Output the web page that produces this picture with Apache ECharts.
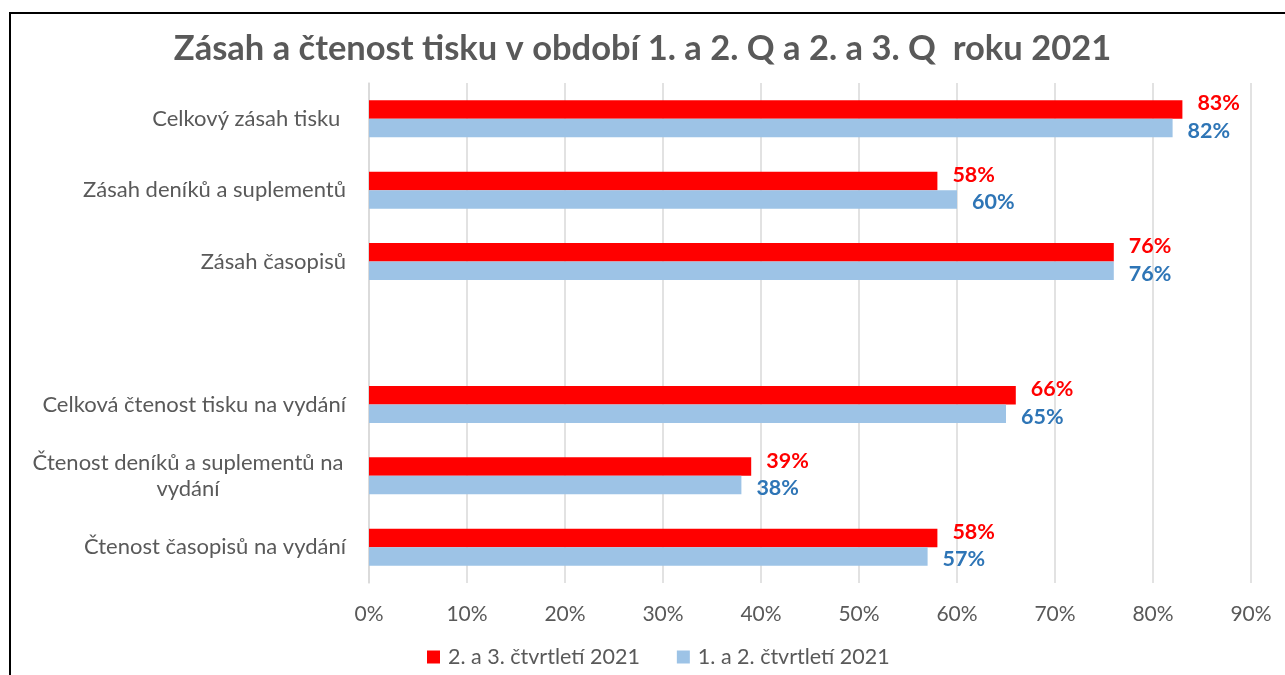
<!DOCTYPE html>
<html><head><meta charset="utf-8">
<script src="https://cdn.jsdelivr.net/npm/echarts@6/dist/echarts.min.js"></script>
<style>html,body{margin:0;padding:0;background:#fff}#c{width:1285px;height:675px}</style>
</head><body><div id="c"></div>
<script>
const categories = ['Celkový zásah tisku ', 'Zásah deníků a suplementů', 'Zásah časopisů', '', 'Celková čtenost tisku na vydání', 'Čtenost deníků a suplementů na\nvydání', 'Čtenost časopisů na vydání'];
const seriesQ23 = [83, 58, 76, null, 66, 39, 58];
const seriesQ12 = [82, 60, 76, null, 65, 38, 57];
const seriesNames = ['2. a 3. čtvrtletí 2021', '1. a 2. čtvrtletí 2021'];
const xTicks = {min: 0, max: 90, interval: 10};

const FONT = 'Lato';
const chart = echarts.init(document.getElementById('c'));
chart.setOption({
  animation: false,
  title: {
    text: 'Zásah a čtenost tisku v období 1. a 2. Q a 2. a 3. Q  roku 2021',
    left: 'center', top: 26,
    textStyle: {fontFamily: FONT, fontSize: 34.5, fontWeight: 'bold', color: '#595959'}
  },
  graphic: [{type: 'rect', shape: {x: 10, y: 13, width: 1400, height: 1000}, style: {fill: 'none', stroke: '#000', lineWidth: 2}, silent: true}],
  legend: {
    bottom: 2, left: 422, itemWidth: 13, itemHeight: 13, itemGap: 37,
    icon: 'rect',
    textStyle: {fontFamily: FONT, fontSize: 21.5, color: '#595959', padding: [0, 0, 0, 3]},
    data: seriesNames
  },
  grid: {left: 369, right: 34, top: 83, bottom: 92, containLabel: false},
  xAxis: {
    type: 'value', min: xTicks.min, max: xTicks.max, interval: xTicks.interval,
    axisLabel: {formatter: '{value}%', fontFamily: FONT, fontSize: 21, color: '#595959', margin: 21},
    splitLine: {lineStyle: {color: '#d9d9d9', width: 1.5}},
    axisLine: {show: false}, axisTick: {show: false}
  },
  yAxis: {
    type: 'category', inverse: true,
    data: categories.map((c, i) => i === 5 ? {value: c, textStyle: {align: 'center', padding: [5, 316, 0, 0]}} : c),
    axisLine: {lineStyle: {color: '#d9d9d9', width: 1.5}},
    axisTick: {show: false},
    axisLabel: {fontFamily: FONT, fontSize: 22, color: '#595959', margin: 23, lineHeight: 26}
  },
  series: [
    {name: seriesNames[0], type: 'bar', data: seriesQ23, barWidth: 18.5, barGap: '0%',
     itemStyle: {color: '#ff0000'},
     label: {show: true, position: 'right', distance: 15, offset: [0, -6], formatter: '{c}%',
             fontFamily: FONT, fontSize: 21.5, fontWeight: 'bold', color: '#ff0000'}},
    {name: seriesNames[1], type: 'bar', data: seriesQ12, barWidth: 18.5, barGap: '0%',
     itemStyle: {color: '#9dc3e6'},
     label: {show: true, position: 'right', distance: 15, offset: [0, 3], formatter: '{c}%',
             fontFamily: FONT, fontSize: 21.5, fontWeight: 'bold', color: '#2e75b6'}}
  ]
});
</script></body></html>
